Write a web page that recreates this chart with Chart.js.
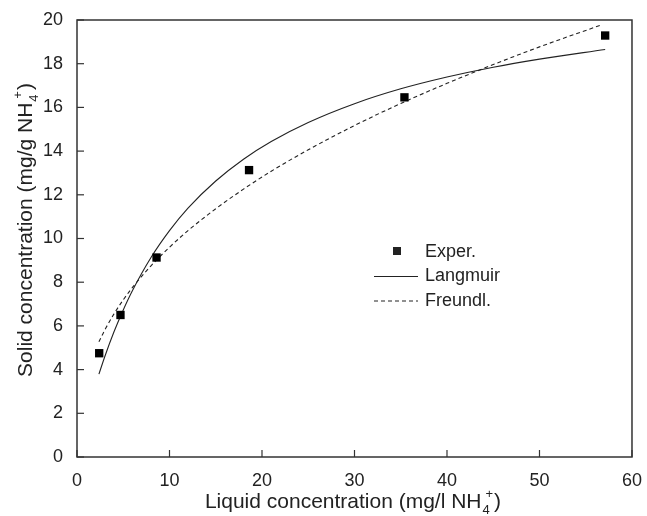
<!DOCTYPE html>
<html>
<head>
<meta charset="utf-8">
<script src="https://cdn.jsdelivr.net/npm/chart.js@4.4.1/dist/chart.umd.min.js"></script>
<style>
  html, body { margin: 0; padding: 0; background: #fff; }
  #wrap { width: 647px; height: 516px; }
</style>
</head>
<body>
<div id="wrap"><canvas id="chart" width="647" height="516"></canvas></div>
<script>
// values
const expX = [2.4, 4.7, 8.6, 18.6, 35.4, 57.1];
const expY = [4.75, 6.5, 9.13, 13.13, 16.46, 19.29];

const langX = [2.37, 3, 4, 5, 6, 8, 10, 12, 15, 18, 21, 25, 30, 35, 40, 45, 50, 57.1];
const langY = [3.79, 4.59, 5.73, 6.73, 7.62, 9.13, 10.36, 11.39, 12.63, 13.63, 14.44, 15.31, 16.17, 16.85, 17.39, 17.84, 18.21, 18.65];

const freX = [2.37, 3, 4, 5, 6, 8, 10, 12, 15, 18, 21, 25, 30, 35, 40, 45, 50, 56.8];
const freY = [5.27, 5.81, 6.55, 7.19, 7.76, 8.75, 9.60, 10.36, 11.36, 12.26, 13.08, 14.06, 15.17, 16.18, 17.10, 17.96, 18.77, 19.79];

const seriesLabels = ['Exper.', 'Langmuir', 'Freundl.'];

const FONT = '"Liberation Sans", Arial, Helvetica, sans-serif';
const INK = '#222';

function pts(xs, ys) {
    return xs.map((x, i) => ({ x: x, y: ys[i] }));
}

// text with NH4+ style sub/superscript at the end
function drawChemLabel(ctx, before, sub, sup, after, x, y) {
    const big = '21px ' + FONT, small = '13px ' + FONT;
    ctx.font = big;
    const wB = ctx.measureText(before).width;
    const wA = ctx.measureText(after).width;
    ctx.font = small;
    const wS = Math.max(ctx.measureText(sub).width, ctx.measureText(sup).width + 4) + 1;
    let sx = x - (wB + wS + wA) / 2;
    ctx.textAlign = 'left';
    ctx.textBaseline = 'alphabetic';
    ctx.font = big;
    ctx.fillText(before, sx, y);
    sx += wB;
    ctx.font = small;
    ctx.fillText(sub, sx + 1, y + 6);
    ctx.fillText(sup, sx + 4, y - 10);
    sx += wS;
    ctx.font = big;
    ctx.fillText(after, sx, y);
}

const framePlugin = {
    id: 'frame',
    afterDraw(chart) {
        const ctx = chart.ctx;
        const a = chart.chartArea;
        ctx.save();
        ctx.strokeStyle = '#333';
        ctx.lineWidth = 1.5;
        ctx.strokeRect(a.left, a.top, a.right - a.left, a.bottom - a.top);

        // inward ticks
        ctx.lineWidth = 1.2;
        const xs = chart.scales.x, ys = chart.scales.y;
        xs.ticks.forEach(t => {
            const px = xs.getPixelForValue(t.value);
            ctx.beginPath();
            ctx.moveTo(px, a.bottom);
            ctx.lineTo(px, a.bottom - 7);
            ctx.stroke();
        });
        ys.ticks.forEach(t => {
            const py = ys.getPixelForValue(t.value);
            ctx.beginPath();
            ctx.moveTo(a.left, py);
            ctx.lineTo(a.left + 7, py);
            ctx.stroke();
        });

        // axis titles
        ctx.fillStyle = INK;
        drawChemLabel(ctx, 'Liquid concentration (mg/l NH', '4', '+', ')', 353, 508);
        ctx.save();
        ctx.translate(32, 230);
        ctx.rotate(-Math.PI / 2);
        drawChemLabel(ctx, 'Solid concentration (mg/g NH', '4', '+', ')', 0, 0);
        ctx.restore();

        // legend
        const lx = 374, ly = 251, step = 24.5;
        ctx.font = '18px ' + FONT;
        ctx.textBaseline = 'middle';
        ctx.textAlign = 'left';
        chart.data.datasets.forEach((ds, i) => {
            const y = ly + i * step;
            ctx.strokeStyle = ds.borderColor;
            ctx.fillStyle = INK;
            if (ds.showLine === false) {
                ctx.fillRect(lx + 19, y - 4, 8, 8);
            } else {
                ctx.lineWidth = ds.borderWidth;
                ctx.setLineDash(ds.borderDash || []);
                ctx.beginPath();
                ctx.moveTo(lx, y + 1);
                ctx.lineTo(lx + 44, y + 1);
                ctx.stroke();
                ctx.setLineDash([]);
            }
            ctx.fillText(ds.label, lx + 51, y + 1);
        });
        ctx.restore();
    }
};

new Chart(document.getElementById('chart'), {
    type: 'scatter',
    data: {
        datasets: [
            {
                label: seriesLabels[0],
                data: pts(expX, expY),
                showLine: false,
                pointStyle: 'rect',
                pointRadius: 5.9,
                backgroundColor: '#000',
                borderColor: '#000',
                borderWidth: 0,
                order: 0
            },
            {
                label: seriesLabels[1],
                data: pts(langX, langY),
                showLine: true,
                pointRadius: 0,
                borderColor: '#222',
                borderWidth: 1.1,
                cubicInterpolationMode: 'monotone',
                order: 1
            },
            {
                label: seriesLabels[2],
                data: pts(freX, freY),
                showLine: true,
                pointRadius: 0,
                borderColor: '#222',
                borderWidth: 1.1,
                borderDash: [4, 3],
                cubicInterpolationMode: 'monotone',
                order: 2
            }
        ]
    },
    options: {
        responsive: false,
        animation: false,
        layout: { padding: { left: 0, top: 20, right: 12, bottom: 0 } },
        plugins: {
            legend: { display: false },
            tooltip: { enabled: false }
        },
        scales: {
            x: {
                type: 'linear',
                min: 0,
                max: 60,
                ticks: { stepSize: 10, color: INK, font: { size: 18, family: FONT }, padding: 5, maxRotation: 0 },
                grid: { display: false },
                border: { display: false },
                afterFit(scale) { scale.height = 59; }
            },
            y: {
                type: 'linear',
                min: 0,
                max: 20,
                ticks: { stepSize: 2, color: INK, font: { size: 18, family: FONT }, padding: 6 },
                grid: { display: false },
                border: { display: false },
                afterFit(scale) { scale.width = 77; }
            }
        }
    },
    plugins: [framePlugin]
});
</script>
</body>
</html>
